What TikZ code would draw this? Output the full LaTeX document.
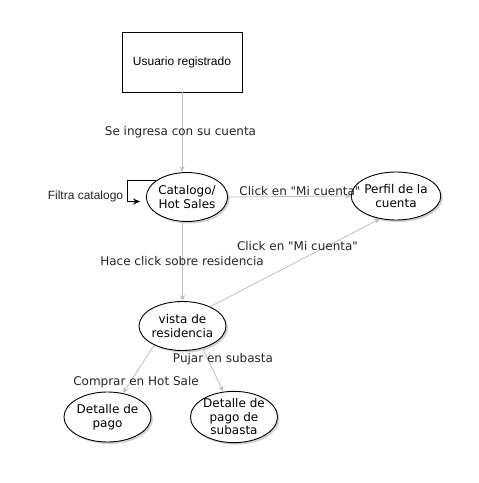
\documentclass[tikz,border=0pt]{standalone}
\usepackage{fontspec}
\setmainfont{DejaVu Sans}[Ligatures=TeXOff]
\newfontfamily\arialfont{Liberation Sans}
\usetikzlibrary{shapes.geometric,arrows.meta,shadows}
\tikzset{
  state/.style={ellipse,draw=black,line width=0.9pt,fill=white,inner sep=0pt,
    minimum width=76pt,minimum height=49pt,align=center,font=\fontsize{12}{13.5}\selectfont,
    drop shadow={shadow xshift=2pt,shadow yshift=-2pt,opacity=0.35,fill=gray}},
  actor/.style={rectangle,draw=black,line width=0.9pt,fill=white,minimum width=120pt,
    minimum height=60pt,font=\arialfont\fontsize{12}{14}\selectfont},
  lbl/.style={inner sep=0pt,font=\fontsize{12}{14}\selectfont,text=black!85},
  flow/.style={draw=black!25,line width=0.8pt,-{Stealth[length=6pt,width=5pt]}},
  loopline/.style={draw=black,line width=0.9pt,-{Stealth[length=7pt,width=6pt]}}
}
\begin{document}
\begin{tikzpicture}[x=1pt,y=-1pt]
\useasboundingbox[fill=white] (0,0) rectangle (479,483);
\node[actor] (user) at (182,62) {Usuario registrado};
\node[state] (cat) at (187,197) {Catalogo/\\Hot Sales};
\node[state,minimum width=74pt,minimum height=48pt] (perfil) at (396,196) {Perfil de la\\cuenta};
\node[state,minimum width=75pt] (vista) at (182.5,326) {vista de\\residencia};
\node[state,minimum width=75pt,minimum height=50pt] (pago) at (107.5,417) {Detalle de\\pago};
\node[state,minimum width=75pt,minimum height=50pt] (sub) at (234,417) {Detalle de\\pago de\\subasta};

\draw[flow] (user.south) -- (user.south |- cat.north);
\draw[flow] (cat.south -| vista.north) -- (vista.north);
\draw[flow] (cat.east) -- (perfil.west);
\draw[flow] (vista.35) -- (perfil.235);
\draw[flow] (vista.214) -- (pago.57);
\draw[flow] (vista.312) -- (sub.113);

\coordinate (lpa) at (127,183);
\coordinate (lpb) at (140,201.5);
\draw[loopline] (cat.152) -- (cat.152 -| lpa) |- (lpb);

\node[lbl] (l1) at (180.5,132) {Se ingresa con su cuenta};
\node[lbl] (l2) at (300,191) {Click en "Mi cuenta"};
\node[lbl] (l3) at (182,261) {Hace click sobre residencia};
\node[lbl] (l4) at (297.5,246) {Click en "Mi cuenta"};
\node[lbl] (l5) at (136,382) {Comprar en Hot Sale};
\node[lbl] (l6) at (223,359) {Pujar en subasta};
\node[lbl,font=\arialfont\fontsize{12}{14}\selectfont] (l7) at (85.5,196) {Filtra catalogo};
\end{tikzpicture}
\end{document}
